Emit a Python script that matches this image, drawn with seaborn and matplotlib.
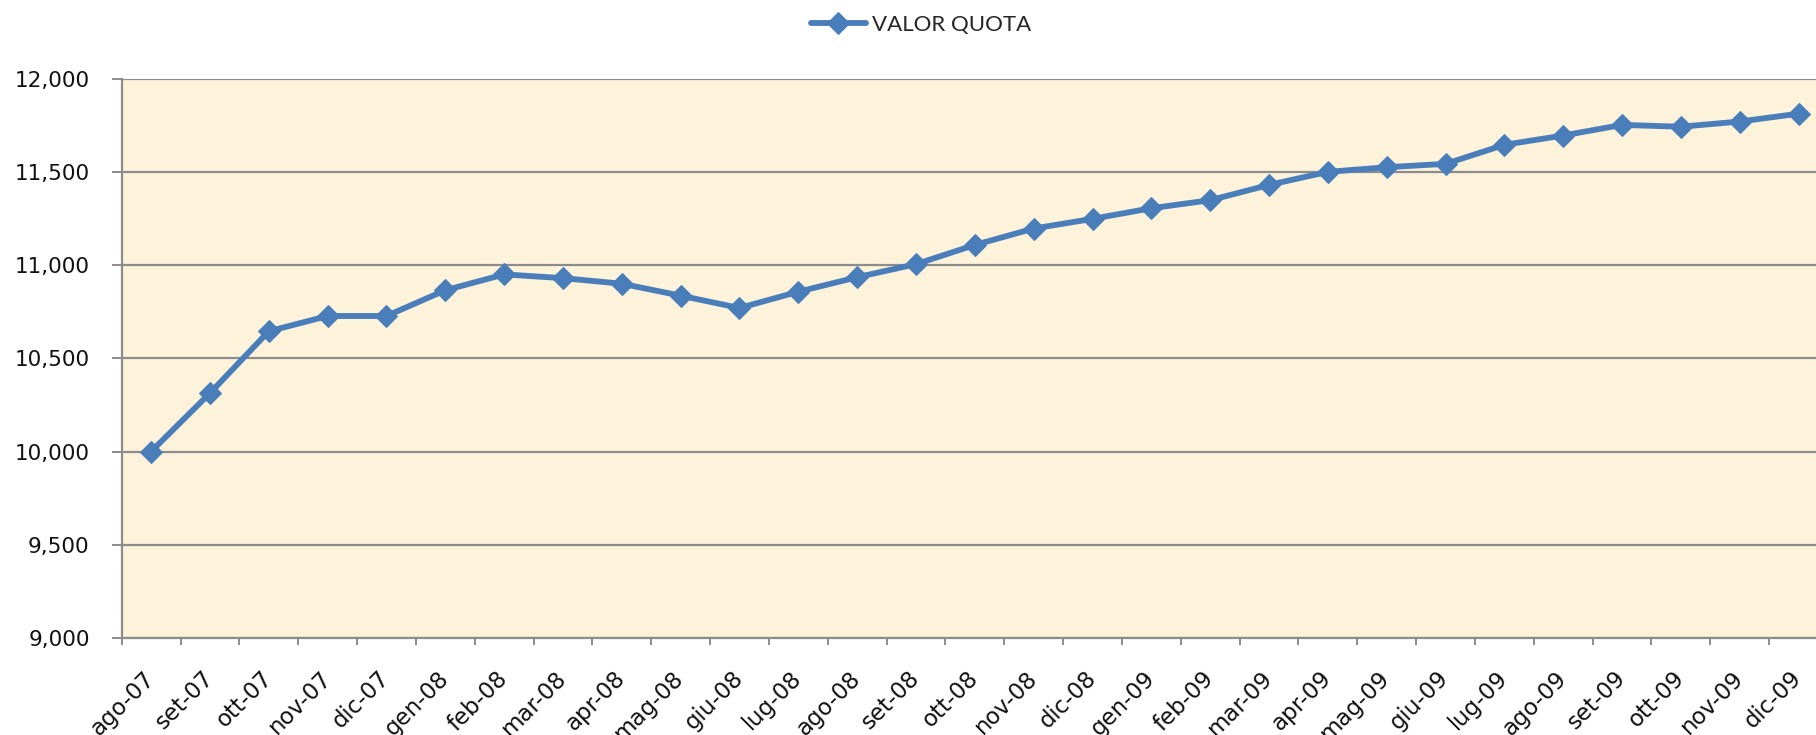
import numpy as np
import pandas as pd
import seaborn as sns
import matplotlib.pyplot as plt
import matplotlib.transforms as mtransforms
from matplotlib.ticker import FuncFormatter, FixedLocator

# Months and fund unit values
mesi = ['ago-07', 'set-07', 'ott-07', 'nov-07', 'dic-07',
        'gen-08', 'feb-08', 'mar-08', 'apr-08', 'mag-08', 'giu-08', 'lug-08',
        'ago-08', 'set-08', 'ott-08', 'nov-08', 'dic-08',
        'gen-09', 'feb-09', 'mar-09', 'apr-09', 'mag-09', 'giu-09', 'lug-09',
        'ago-09', 'set-09', 'ott-09', 'nov-09', 'dic-09']
valore_quota = [10000, 10313, 10645, 10727, 10727,
                10865, 10950, 10930, 10900, 10836, 10770, 10857,
                10935, 11005, 11108, 11196, 11248,
                11305, 11348, 11430, 11500, 11525, 11543, 11645,
                11695, 11752, 11742, 11770, 11812]
y_ticks = [9000, 9500, 10000, 10500, 11000, 11500, 12000]

df = pd.DataFrame({'mese': mesi, 'valore': valore_quota})

sns.set_style('white')
plt.rcParams['font.family'] = ['DejaVu Sans']

fig = plt.figure(figsize=(18.16, 7.35), dpi=100)
ax = fig.add_axes([0.067, 0.132, 0.9396, 0.761])
ax.set_facecolor('#FDF2DA')

sns.lineplot(data=df, x='mese', y='valore', ax=ax, sort=False,
             color='#4A7EBB', linewidth=4.2, marker='D', markersize=11,
             markeredgecolor='#4A7EBB', label='VALOR QUOTA')

ax.set_xlim(-0.5, len(mesi) - 0.5)
ax.set_ylim(9000, 12000)
ax.set_yticks(y_ticks)
ax.yaxis.set_major_formatter(FuncFormatter(lambda v, p: f'{int(v):,}'))
ax.grid(axis='y', color='#8C8C8C', linewidth=1.6)
ax.set_axisbelow(True)

ax.set_xlabel('')
ax.set_ylabel('')
ax.set_xticks(range(len(mesi)))
ax.set_xticklabels(mesi, rotation=45, ha='right', va='center',
                   rotation_mode='anchor', fontsize=16.5, color='#111111')
# month labels sit a little right of the category centre
shift = mtransforms.ScaledTranslation(12 / 100, 0, fig.dpi_scale_trans)
for lab in ax.get_xticklabels():
    lab.set_transform(lab.get_transform() + shift)
ax.xaxis.set_minor_locator(FixedLocator(np.arange(-0.5, len(mesi), 1)))
ax.tick_params(axis='x', which='major', length=0, pad=26.5)
ax.tick_params(axis='x', which='minor', length=5, width=1.4, color='#8C8C8C',
               direction='out', bottom=True)
ax.tick_params(axis='y', length=7, width=1.4, color='#8C8C8C',
               direction='out', left=True, labelsize=15.5, pad=16,
               labelcolor='#111111')

for side in ['left', 'bottom']:
    ax.spines[side].set_color('#8C8C8C')
    ax.spines[side].set_linewidth(1.6)
for side in ['top', 'right']:
    ax.spines[side].set_visible(False)

leg = ax.legend(loc='center', bbox_to_anchor=(0.507, 0.966),
                bbox_transform=fig.transFigure, frameon=False,
                prop={'family': 'Lato', 'size': 16}, handlelength=2.5,
                handletextpad=0.25)

fig.savefig('out.png', dpi=100)
